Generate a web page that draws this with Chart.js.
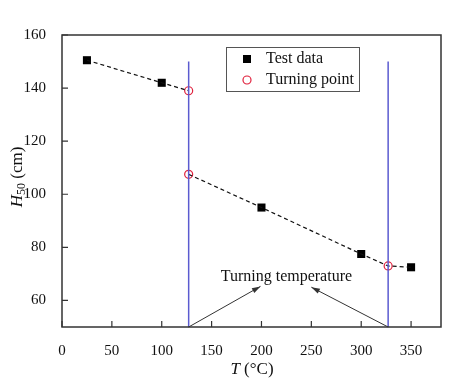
<!DOCTYPE html>
<html>
<head>
<meta charset="utf-8">
<script src="https://cdn.jsdelivr.net/npm/chart.js@4/dist/chart.umd.min.js"></script>
<style>
  html, body { margin: 0; padding: 0; background: #fff; }
  #wrap { width: 474px; height: 389px; }
</style>
</head>
<body>
<div id="wrap"><canvas id="chart" width="474" height="389"></canvas></div>
<script>
// Data
const testT = [25, 100, 200, 300, 350];
const testH = [150.5, 142, 95, 77.5, 72.5];
const turnT = [127, 127, 327];
const turnH = [139, 107.5, 73];
const turningTemps = [127, 327];
const xTicks = [0, 50, 100, 150, 200, 250, 300, 350];
const yTicks = [60, 80, 100, 120, 140, 160];

const serif = '"Liberation Serif", "Times New Roman", serif';

function pts(xs, ys) {
    return xs.map((x, i) => ({ x: x, y: ys[i] }));
}

// dashed fit lines, split at the turning points
const upperLine = pts(testT, testH).filter(p => p.x < turnT[0]).concat([{ x: turnT[0], y: turnH[0] }]);
const lowerLine = [{ x: turnT[1], y: turnH[1] }]
    .concat(pts(testT, testH).filter(p => p.x > turnT[1]), [{ x: turnT[2], y: turnH[2] }])
    .sort((a, b) => a.x - b.x);

const lineStyle = {
    showLine: true,
    borderColor: '#111',
    borderWidth: 1.2,
    borderDash: [4, 3],
    pointRadius: 0,
    fill: false
};

// frame, inward ticks, titles, arrows and legend
const decorPlugin = {
    id: 'decor',
    afterDatasetsDraw(chart) {
        const ctx = chart.ctx;
        const a = chart.chartArea;
        const xs = chart.scales.x, ys = chart.scales.y;
        ctx.save();

        // frame
        ctx.strokeStyle = '#333';
        ctx.lineWidth = 1.5;
        ctx.strokeRect(a.left, a.top, a.right - a.left, a.bottom - a.top);

        // inward ticks
        ctx.lineWidth = 1.2;
        ctx.beginPath();
        xTicks.forEach(v => {
            const px = xs.getPixelForValue(v);
            ctx.moveTo(px, a.bottom);
            ctx.lineTo(px, a.bottom - 6);
        });
        yTicks.forEach(v => {
            const py = ys.getPixelForValue(v);
            ctx.moveTo(a.left, py);
            ctx.lineTo(a.left + 6, py);
        });
        ctx.stroke();

        // arrows to the annotation
        ctx.strokeStyle = '#333';
        ctx.fillStyle = '#333';
        ctx.lineWidth = 1;
        const tips = [[199, 65.3], [250, 65]];
        turningTemps.forEach((t, i) => {
            const x0 = xs.getPixelForValue(t), y0 = ys.getPixelForValue(50);
            const x1 = xs.getPixelForValue(tips[i][0]), y1 = ys.getPixelForValue(tips[i][1]);
            ctx.beginPath();
            ctx.moveTo(x0, y0);
            ctx.lineTo(x1, y1);
            ctx.stroke();
            const ang = Math.atan2(y1 - y0, x1 - x0);
            ctx.beginPath();
            ctx.moveTo(x1, y1);
            ctx.lineTo(x1 - 9 * Math.cos(ang - 0.3), y1 - 9 * Math.sin(ang - 0.3));
            ctx.lineTo(x1 - 9 * Math.cos(ang + 0.3), y1 - 9 * Math.sin(ang + 0.3));
            ctx.closePath();
            ctx.fill();
        });

        ctx.fillStyle = '#111';
        ctx.font = '16px ' + serif;
        ctx.textAlign = 'center';
        ctx.textBaseline = 'middle';
        ctx.fillText('Turning temperature', xs.getPixelForValue(225), ys.getPixelForValue(68.8));

        // legend
        ctx.strokeStyle = '#555';
        ctx.lineWidth = 1;
        ctx.strokeRect(226.5, 47.5, 133, 44);
        ctx.fillStyle = '#000';
        ctx.fillRect(243, 55, 8, 8);
        ctx.strokeStyle = '#e0203c';
        ctx.lineWidth = 1.2;
        ctx.beginPath();
        ctx.arc(247, 80, 4, 0, Math.PI * 2);
        ctx.stroke();
        ctx.fillStyle = '#111';
        ctx.textAlign = 'left';
        ctx.fillText('Test data', 266, 59);
        ctx.fillText('Turning point', 266, 80);

        // x title: T (°C)
        ctx.font = 'italic 17px ' + serif;
        const tw = ctx.measureText('T').width;
        ctx.font = '17px ' + serif;
        const rw = ctx.measureText(' (°C)').width;
        let sx = 252 - (tw + rw) / 2;
        ctx.font = 'italic 17px ' + serif;
        ctx.fillText('T', sx, 370);
        ctx.font = '17px ' + serif;
        ctx.fillText(' (°C)', sx + tw, 370);

        // y title: H50 (cm), rotated
        ctx.translate(18, 177);
        ctx.rotate(-Math.PI / 2);
        ctx.font = 'italic 17px ' + serif;
        const hw = ctx.measureText('H').width;
        ctx.font = '12px ' + serif;
        const sw = ctx.measureText('50').width;
        ctx.font = '17px ' + serif;
        const cw = ctx.measureText(' (cm)').width;
        sx = -(hw + sw + cw) / 2;
        ctx.font = 'italic 17px ' + serif;
        ctx.fillText('H', sx, 0);
        ctx.font = '12px ' + serif;
        ctx.fillText('50', sx + hw, 4);
        ctx.font = '17px ' + serif;
        ctx.fillText(' (cm)', sx + hw + sw, 0);

        ctx.restore();
    }
};

// vertical turning-temperature lines
const vLines = turningTemps.map(t => ({
    data: [{ x: t, y: 50 }, { x: t, y: 150 }],
    showLine: true,
    borderColor: '#5b5bd0',
    borderWidth: 1.5,
    pointRadius: 0
}));

new Chart(document.getElementById('chart'), {
    type: 'scatter',
    data: {
        datasets: vLines.concat([
            Object.assign({ data: upperLine }, lineStyle),
            Object.assign({ data: lowerLine }, lineStyle),
            {
                label: 'Test data',
                data: pts(testT, testH),
                pointStyle: 'rect',
                pointRadius: 5.7,
                backgroundColor: '#000',
                borderColor: '#000',
                borderWidth: 0
            },
            {
                label: 'Turning point',
                data: pts(turnT, turnH),
                pointStyle: 'circle',
                pointRadius: 4,
                backgroundColor: 'rgba(255,255,255,0)',
                borderColor: '#e0203c',
                borderWidth: 1.2
            }
        ])
    },
    options: {
        responsive: false,
        animation: false,
        layout: { padding: { top: 35, right: 33, left: 0, bottom: 0 } },
        plugins: {
            legend: { display: false },
            tooltip: { enabled: false }
        },
        scales: {
            x: {
                type: 'linear',
                min: 0,
                max: 380,
                afterBuildTicks: s => { s.ticks = xTicks.map(v => ({ value: v })); },
                afterFit: s => { s.height = 62; },
                grid: { display: false },
                border: { display: false },
                ticks: { color: '#111', font: { family: serif, size: 15 }, padding: 7, maxRotation: 0 }
            },
            y: {
                min: 50,
                max: 160,
                afterBuildTicks: s => { s.ticks = yTicks.map(v => ({ value: v })); },
                afterFit: s => { s.width = 62; },
                grid: { display: false },
                border: { display: false },
                ticks: { color: '#111', font: { family: serif, size: 15 }, padding: 8 }
            }
        }
    },
    plugins: [decorPlugin]
});
</script>
</body>
</html>
